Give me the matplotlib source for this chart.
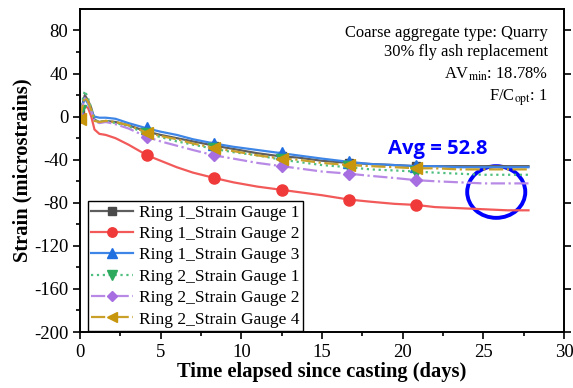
import matplotlib
matplotlib.use("Agg")
import matplotlib.pyplot as plt
from matplotlib.patches import Ellipse
from matplotlib.ticker import MultipleLocator, FixedLocator

plt.rcParams['font.family'] = ['Liberation Serif', 'DejaVu Serif']
plt.rcParams['mathtext.fontset'] = 'stix'
plt.rcParams['axes.unicode_minus'] = False

# ---- data (days, microstrains) ----
t = [0, 0.1, 0.3, 0.5, 0.7, 0.9, 1.2, 1.6, 2.2, 3.0, 4.17, 5.0, 6.0, 7.0, 8.33,
     9.5, 11.0, 12.5, 13.5, 15.0, 16.67, 18.0, 19.5, 20.83, 22.0, 23.5, 25.0, 26.5, 27.8]
r1_sg1 = [2, 8, 20, 15, 8, -3, -5, -4, -5, -8, -14, -17, -20, -23, -27,
          -30, -34, -37, -38, -41, -43, -44, -45, -46, -46, -46, -46, -46, -46]
r1_sg2 = [0, 4, 10, 8, 0, -12, -16, -17, -20, -26, -36, -41, -47, -52, -57,
          -61, -65, -68, -70, -73, -77, -79, -81, -82, -84, -85, -86, -87, -87]
r1_sg3 = [3, 8, 17, 12, 5, 0, -1, -1, -2, -6, -11, -14, -17, -21, -25,
          -28, -31, -34, -36, -39, -42, -44, -45, -46, -46, -47, -47, -47, -47]
r2_sg1 = [5, 12, 24, 17, 8, -3, -5, -4, -6, -9, -16, -19, -23, -26, -30,
          -33, -36, -40, -42, -45, -47, -49, -50, -51, -52, -53, -54, -54, -54]
r2_sg2 = [0, 8, 17, 13, 5, -4, -6, -5, -7, -11, -19, -23, -27, -31, -36,
          -39, -43, -46, -48, -51, -53, -55, -57, -59, -60, -61, -62, -62, -62]
r2_sg4 = [-2, 6, 18, 14, 6, -4, -5, -4, -5, -8, -15, -18, -21, -25, -29,
          -32, -36, -39, -40, -43, -45, -46, -47, -48, -48, -49, -49, -49, -49]
marker_idx = [0, 10, 14, 17, 20, 23]

labels = ['Ring 1_Strain Gauge 1', 'Ring 1_Strain Gauge 2', 'Ring 1_Strain Gauge 3',
          'Ring 2_Strain Gauge 1', 'Ring 2_Strain Gauge 2', 'Ring 2_Strain Gauge 4']
series = [r1_sg1, r1_sg2, r1_sg3, r2_sg1, r2_sg2, r2_sg4]
line_colors = ['#5e5e5e', '#f25a5a', '#3d85e6', '#4fbf7f', '#b88ae6', '#c9a02a']
mk_colors = ['#4a4a4a', '#f03a3a', '#1f6fe0', '#2eaa5e', '#a66ee0', '#c8960c']
markers = ['s', 'o', '^', 'v', 'D', '<']
msizes = [6, 8, 8, 8, 6, 8]
styles = ['-', '-', '-', ':', '-.', '-.']

fig = plt.figure(figsize=(5.73, 3.88), dpi=100)
ax = fig.add_axes([0.1396, 0.1443, 0.8447, 0.8327])

for y, lab, lc, mc, m, ms, ls in zip(series, labels, line_colors, mk_colors, markers, msizes, styles):
    ax.plot(t, y, linestyle=ls, color=lc, linewidth=1.6, marker=m, markersize=ms,
            markerfacecolor=mc, markeredgecolor=mc, markevery=marker_idx, label=lab)

ax.set_xlim(0, 30)
ax.set_ylim(-200, 100)
ax.xaxis.set_major_locator(MultipleLocator(5))
ax.xaxis.set_minor_locator(MultipleLocator(2.5))
ax.yaxis.set_major_locator(FixedLocator([-200, -160, -120, -80, -40, 0, 40, 80]))
ax.yaxis.set_minor_locator(FixedLocator([-180, -140, -100, -60, -20, 20, 60]))
ax.tick_params(axis='both', which='both', direction='out', labelsize=13.5, width=1.2)
ax.tick_params(axis='both', which='major', length=5)
ax.tick_params(axis='both', which='minor', length=3)
ax.tick_params(axis='y', which='major', right=True)
ax.tick_params(axis='y', which='minor', right=False)
for s in ax.spines.values():
    s.set_linewidth(1.4)

ax.set_xlabel('Time elapsed since casting (days)', fontsize=14.8, fontweight='bold', labelpad=1)
ax.set_ylabel('Strain (microstrains)', fontsize=14.8, fontweight='bold', labelpad=1)

leg = ax.legend(loc='lower left', bbox_to_anchor=(0.016, 0.003), borderaxespad=0,
                fontsize=12.5, fancybox=False, edgecolor='black', framealpha=1,
                handlelength=2.4, handletextpad=0.35, labelspacing=0.3, borderpad=0.2,
                markerscale=0.85)
leg.get_frame().set_linewidth(1.0)

tx = 0.967
fs = 11.9
ax.text(tx, 0.925, 'Coarse aggregate type: Quarry', transform=ax.transAxes, ha='right', va='center', fontsize=fs)
ax.text(tx, 0.868, '30% fly ash replacement', transform=ax.transAxes, ha='right', va='center', fontsize=fs)
ax.text(tx, 0.798, r'AV$_{\mathrm{min}}$: 18.78%', transform=ax.transAxes, ha='right', va='center', fontsize=fs)
ax.text(tx, 0.726, r'F/C$_{\mathrm{opt}}$: 1', transform=ax.transAxes, ha='right', va='center', fontsize=fs)

ax.text(22.2, -30, 'Avg = 52.8', ha='center', va='center', color='#0000ff',
        fontsize=14.6, fontweight='bold', family=['Open Sans', 'DejaVu Sans'])
ax.add_patch(Ellipse((25.8, -70), 3.6, 48, fill=False, edgecolor='#0000ff', linewidth=2.8))

fig.savefig('out.png', dpi=100)
